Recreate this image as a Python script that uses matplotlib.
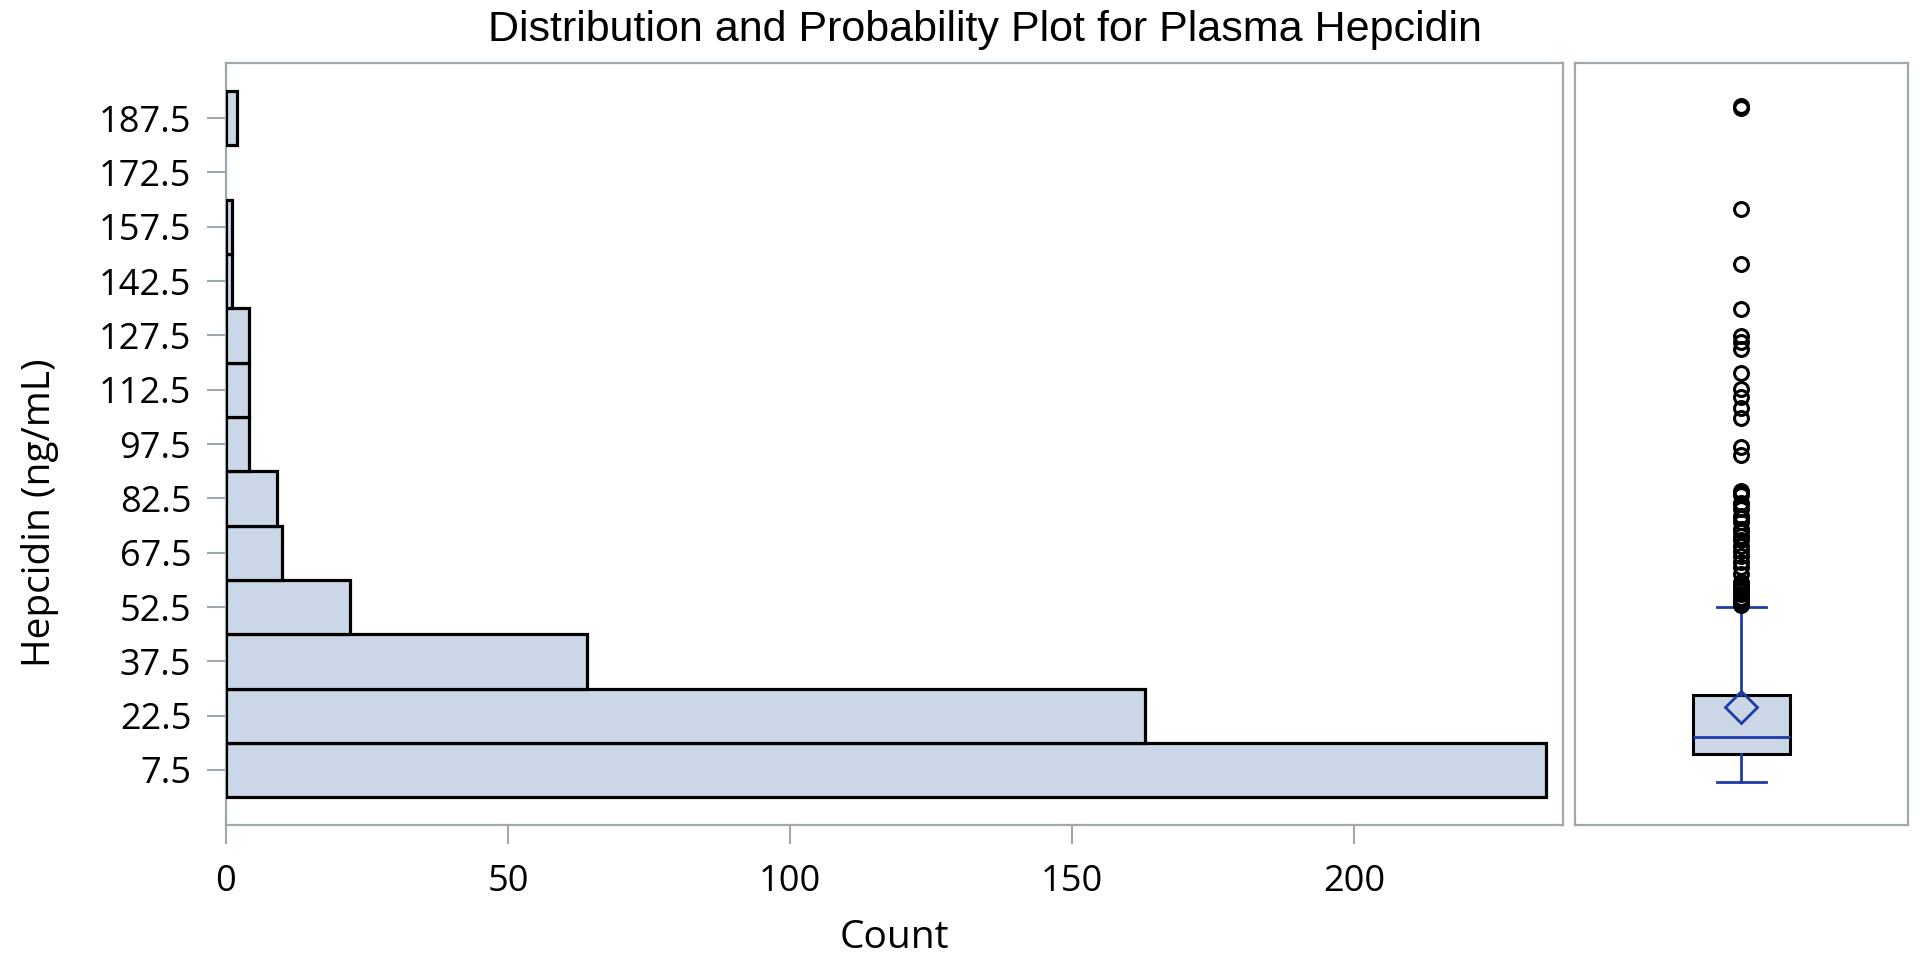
import matplotlib.pyplot as plt

# --- Data ---
bin_centers = [7.5, 22.5, 37.5, 52.5, 67.5, 82.5, 97.5, 112.5, 127.5, 142.5, 157.5, 172.5, 187.5]
bin_counts = [234, 163, 64, 22, 10, 9, 4, 4, 4, 1, 1, 0, 2]
count_ticks = [0, 50, 100, 150, 200]

box_whislo = 4.2
box_q1 = 12.0
box_median = 16.5
box_q3 = 28.3
box_mean = 24.9
box_whishi = 52.6
box_outliers = [190.2, 190.8, 162.5, 147.1, 134.8, 127.3, 125.6, 123.8, 117.0,
                112.6, 110.5, 107.5, 104.8, 96.8, 94.6,
                84.5, 84.0, 83.5, 81.3, 81.0, 79.5, 77.5, 77.0, 76.0,
                74.1, 73.5, 72.0, 71.0, 69.3, 68.0, 66.5, 65.0, 63.5, 61.5,
                59.5, 58.5, 57.5, 57.0, 56.0, 55.0, 54.5, 54.0, 53.5, 53.0]

# --- Style ---
fill = '#CBD6E6'
blue = '#1E3CA8'
frame = '#A0A7AD'
tick_font = 'Open Sans'

fig = plt.figure(figsize=(19.2, 9.59), dpi=100)
ax = fig.add_axes([0.1177, 0.1397, 0.6962, 0.7949])
ax_box = fig.add_axes([0.8203, 0.1397, 0.1734, 0.7949])

# histogram (horizontal), empty bins left out
shown = [(c, n) for c, n in zip(bin_centers, bin_counts) if n > 0]
ax.barh([c for c, n in shown], [n for c, n in shown], height=15,
        color=fill, edgecolor='black', linewidth=2.3, zorder=3)

ax.set_xlim(0, 237)
ax.set_ylim(-7.7, 202.8)
ax.set_yticks(bin_centers)
ax.set_yticklabels([f"{c:g}" for c in bin_centers])
ax.set_xticks(count_ticks)
ax.tick_params(axis='both', length=14, width=1.5, color=frame,
               labelsize=26, labelcolor='black')
ax.tick_params(axis='y', pad=11)
ax.tick_params(axis='x', pad=14)
for lab in ax.get_xticklabels() + ax.get_yticklabels():
    lab.set_fontfamily(tick_font)

ax.set_xlabel("Count", fontsize=28, fontfamily=tick_font, labelpad=14)
ax.set_ylabel("Hepcidin (ng/mL)", fontsize=28, fontfamily=tick_font)
ax.yaxis.set_label_coords(-0.125, 0.41)

for a in (ax, ax_box):
    for sp in a.spines.values():
        sp.set_color(frame)
        sp.set_linewidth(1.6)

# box plot panel
stats = [{
    'whislo': box_whislo, 'q1': box_q1, 'med': box_median, 'q3': box_q3,
    'whishi': box_whishi, 'mean': box_mean, 'fliers': box_outliers,
}]
ax_box.bxp(stats, positions=[0], widths=0.29, patch_artist=True,
           showmeans=True, showfliers=True,
           boxprops=dict(facecolor=fill, edgecolor='black', linewidth=2.2),
           medianprops=dict(color=blue, linewidth=2.0),
           whiskerprops=dict(color=blue, linewidth=2.0),
           capprops=dict(color=blue, linewidth=2.0),
           capwidths=0.145,
           meanprops=dict(marker='D', markersize=16, markerfacecolor='none',
                          markeredgecolor=blue, markeredgewidth=2.0),
           flierprops=dict(marker='o', markersize=10, markerfacecolor='none',
                           markeredgecolor='black', markeredgewidth=2.2))
ax_box.set_xlim(-0.5, 0.5)
ax_box.set_ylim(ax.get_ylim())
ax_box.set_xticks([])
ax_box.set_yticks([])

fig.text(0.5128, 0.957, "Distribution and Probability Plot for Plasma Hepcidin",
         fontsize=31, fontfamily='Liberation Sans', ha='center', va='baseline')

fig.savefig("out.png", dpi=100)
